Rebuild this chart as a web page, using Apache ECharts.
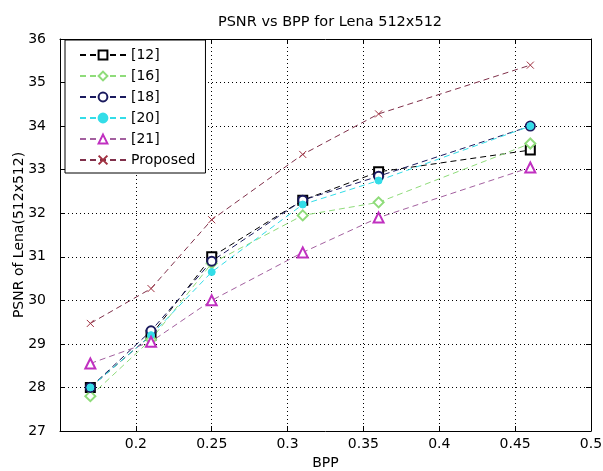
<!DOCTYPE html>
<html>
<head>
<meta charset="utf-8">
<script src="https://cdn.jsdelivr.net/npm/echarts@6/dist/echarts.min.js"></script>
<style>
html, body { margin: 0; padding: 0; background: #fff; }
#chart { width: 603px; height: 471px; }
</style>
</head>
<body>
<div id="chart"></div>
<script>
// BPP values shared by every curve
var bpp = [0.17, 0.21, 0.25, 0.31, 0.36, 0.46];
// PSNR values
var psnr12 = [28.0, 29.2, 31.0, 32.3, 32.95, 33.45];
var psnr16 = [27.8, 29.1, 30.85, 31.95, 32.25, 33.6];
var psnr18 = [28.0, 29.3, 30.9, 32.3, 32.85, 34.0];
var psnr20 = [28.0, 29.2, 30.65, 32.2, 32.75, 34.0];
var psnr21 = [28.55, 29.05, 30.0, 31.1, 31.9, 33.05];
var psnrProposed = [29.47, 30.27, 31.85, 33.35, 34.28, 35.4];

var FONT = "'DejaVu Sans', sans-serif";

function pairs(vals) {
    return bpp.map(function (x, i) { return [x, vals[i]]; });
}

function makeSeries(name, vals, lineColor, symbol, symColor, fill, size) {
    return {
        name: name,
        type: 'line',
        data: pairs(vals),
        symbol: symbol,
        symbolSize: size,
        showAllSymbol: true,
        lineStyle: { color: lineColor, width: 1, type: [6, 4] },
        itemStyle: { color: fill, borderColor: symColor, borderWidth: 1 },
        emphasis: { disabled: true },
        animation: false
    };
}

var chart = echarts.init(document.getElementById('chart'));

var sideAxis = {
    axisLine: { show: true, lineStyle: { color: '#000', width: 1 } },
    axisTick: { show: true, inside: true, length: 5, lineStyle: { color: '#000' } },
    axisLabel: { show: false },
    splitLine: { show: false }
};

chart.setOption({
    backgroundColor: '#fff',
    animation: false,
    title: {
        text: 'PSNR vs BPP for Lena 512x512',
        left: 325,
        textAlign: 'center',
        top: 10,
        textStyle: { fontFamily: FONT, fontSize: 14.5, fontWeight: 'normal', color: '#000' }
    },
    legend: {
        orient: 'vertical',
        left: 65,
        top: 40,
        padding: [8, 10, 6, 14],
        itemWidth: 46,
        itemHeight: 11,
        itemGap: 7,
        backgroundColor: '#fff',
        borderColor: '#000',
        borderWidth: 1,
        borderRadius: 0,
        textStyle: { fontFamily: FONT, fontSize: 14, color: '#000' },
        data: ['[12]', '[16]', '[18]', '[20]', '[21]', 'Proposed']
    },
    grid: { left: 60, right: 12, top: 39, bottom: 40, outerBoundsMode: 'none', containLabel: false },
    xAxis: [
        {
            type: 'value',
            min: 0.15,
            max: 0.5,
            interval: 0.05,
            name: 'BPP',
            nameLocation: 'middle',
            nameGap: 24,
            nameTextStyle: { fontFamily: FONT, fontSize: 14, color: '#000' },
            axisLine: { show: true, onZero: false, lineStyle: { color: '#000', width: 1 } },
            axisTick: { show: true, inside: true, length: 5, lineStyle: { color: '#000' } },
            axisLabel: {
                showMinLabel: false,
                margin: 6,
                fontFamily: FONT, fontSize: 14, color: '#000',
                formatter: function (v) { return String(Math.round(v * 100) / 100); }
            },
            splitLine: { show: true, lineStyle: { color: '#000', width: 1, type: [1, 3] } }
        },
        Object.assign({ type: 'value', position: 'top', min: 0.15, max: 0.5, interval: 0.05 }, sideAxis)
    ],
    yAxis: [
        {
            type: 'value',
            min: 27,
            max: 36,
            interval: 1,
            name: 'PSNR of Lena(512x512)',
            nameLocation: 'middle',
            nameGap: 34,
            nameMoveOverlap: false,
            nameTextStyle: { fontFamily: FONT, fontSize: 14, color: '#000' },
            axisLine: { show: true, lineStyle: { color: '#000', width: 1 } },
            axisTick: { show: true, inside: true, length: 5, lineStyle: { color: '#000' } },
            axisLabel: { margin: 14, fontFamily: FONT, fontSize: 14, color: '#000' },
            splitLine: { show: true, lineStyle: { color: '#000', width: 1, type: [1, 3] } }
        },
        Object.assign({ type: 'value', position: 'right', min: 27, max: 36, interval: 1 }, sideAxis)
    ],
    series: [
        makeSeries('[12]', psnr12, '#000000', 'emptyRect', '#000000', '#000000', 9),
        makeSeries('[16]', psnr16, '#8fdc7a', 'emptyDiamond', '#8fdc7a', '#8fdc7a', 10),
        makeSeries('[18]', psnr18, '#1a1a5e', 'emptyCircle', '#1a1a5e', '#1a1a5e', 9),
        makeSeries('[20]', psnr20, '#33dde8', 'circle', '#33dde8', '#33dde8', 7),
        makeSeries('[21]', psnr21, '#a3609f', 'emptyTriangle', '#c030c0', '#c030c0', 10),
        makeSeries('Proposed', psnrProposed, '#80304a', 'path://M0,0L10,10M10,0L0,10', '#a03040', 'none', 7)
    ]
});
</script>
</body>
</html>
